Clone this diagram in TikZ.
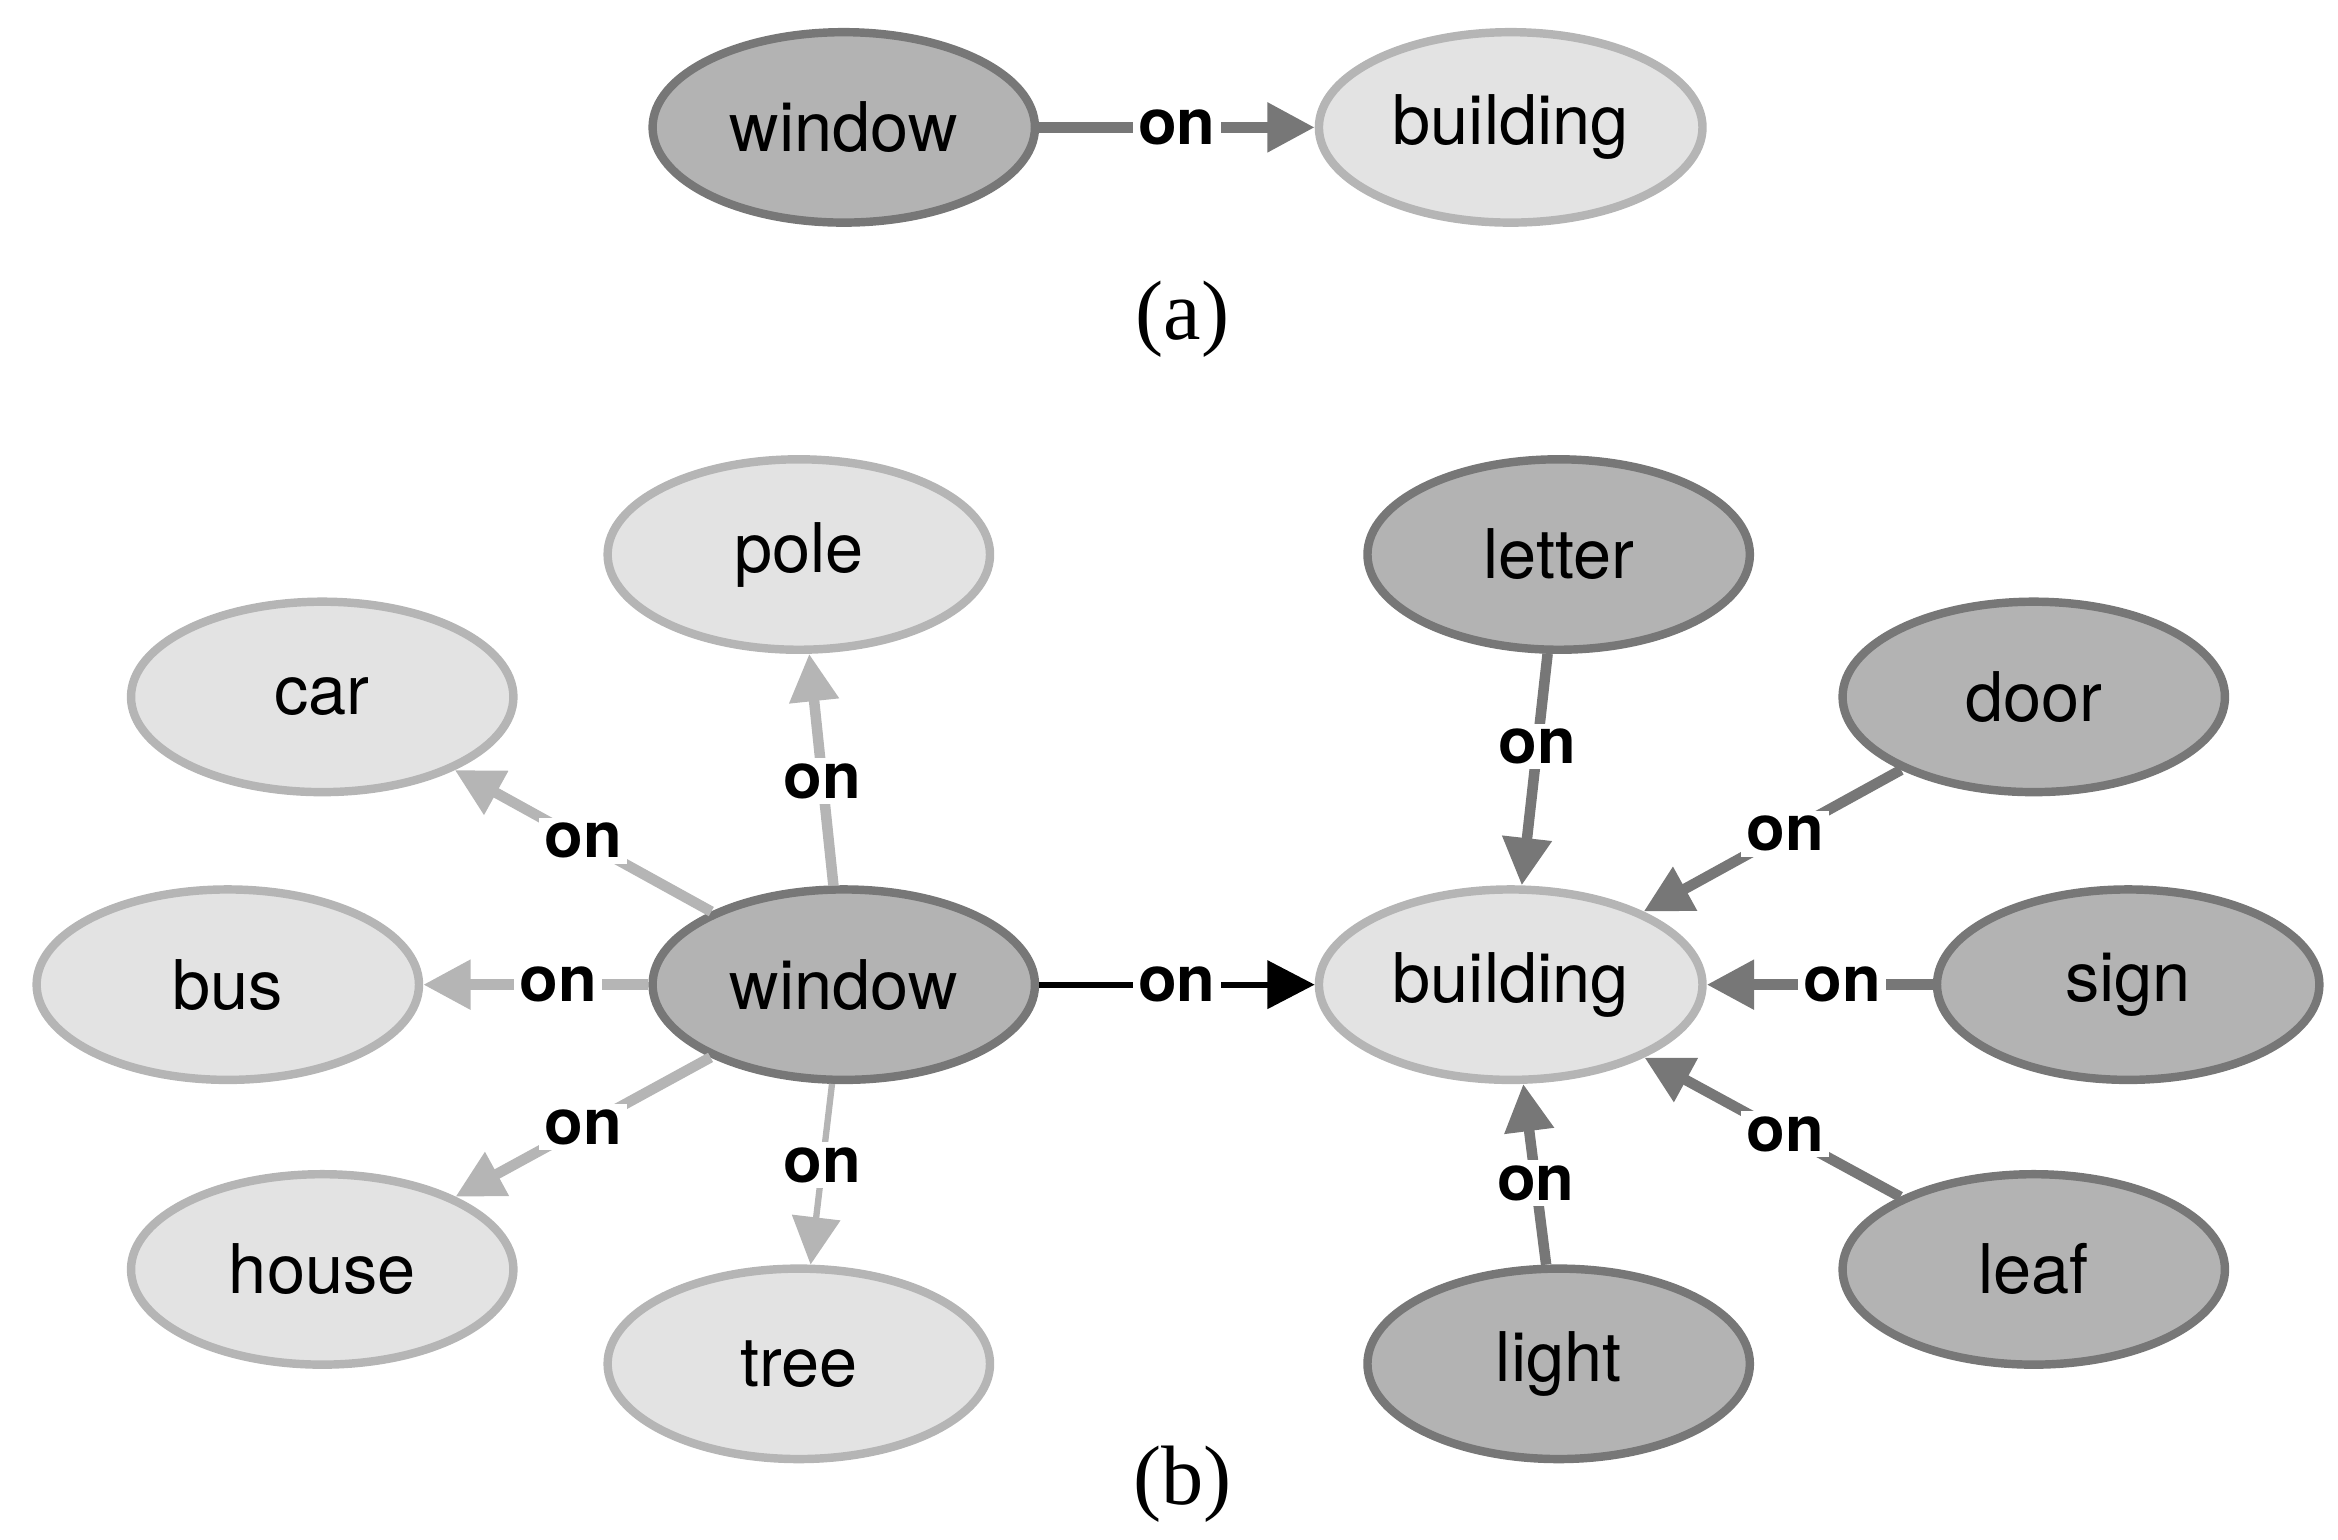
\documentclass[tikz,border=0pt]{standalone}
\usepackage{fontspec}
\setmainfont{TeX Gyre Heros}
\newfontfamily\capfont{Liberation Serif}
\usetikzlibrary{arrows.meta,shapes.geometric}
\definecolor{dk}{HTML}{B3B3B3}\definecolor{dkb}{HTML}{777777}
\definecolor{lt}{HTML}{E3E3E3}\definecolor{ltb}{HTML}{B5B5B5}
\begin{document}
\begin{tikzpicture}[x=0.01cm,y=-0.01cm,
 dn/.style={ellipse,draw=dkb,fill=dk,line width=1.6pt,minimum width=2.55cm,minimum height=1.27cm,font=\fontsize{13}{13}\selectfont},
 ln/.style={ellipse,draw=ltb,fill=lt,line width=1.6pt,minimum width=2.55cm,minimum height=1.27cm,font=\fontsize{13}{13}\selectfont},
 lab/.style={fill=white,inner sep=1pt,font=\bfseries\fontsize{12}{12}\selectfont},
 de/.style={draw=dkb,line width=2pt,-{Triangle[length=9pt,width=9pt]}},
 le/.style={draw=ltb,line width=2pt,-{Triangle[length=9pt,width=9pt]}},
 capt/.style={font=\capfont\fontsize{16}{16}\selectfont}]
\useasboundingbox (0,0) rectangle (1560,1027);
\node[dn] (wa) at (563,85) {window};
\node[ln] (ba) at (1008,85) {building};
\draw[de] (wa) -- node[lab] {on} (ba);
\node[capt] (ca) at (789,213) {(a)};
\node[ln] (pole) at (533,370) {pole};
\node[ln] (car) at (215,465) {car};
\node[ln] (bus) at (152,657) {bus};
\node[ln] (house) at (215,847) {house};
\node[ln] (tree) at (533,910) {tree};
\node[dn] (w) at (563,657) {window};
\node[ln] (b) at (1008,657) {building};
\node[dn] (letter) at (1040,370) {letter};
\node[dn] (door) at (1357,465) {door};
\node[dn] (sign) at (1420,657) {sign};
\node[dn] (leaf) at (1357,847) {leaf};
\node[dn] (light) at (1040,910) {light};
\node[capt] (cb) at (789,990) {(b)};
\draw[le] (w) -- node[lab,pos=0.45] {on} (pole);
\draw[le] (w) -- node[lab] {on} (car);
\draw[le] (w) -- node[lab,pos=0.4] {on} (bus);
\draw[le] (w) -- node[lab] {on} (house);
\draw[le,line width=1.2pt] (w) -- node[lab,pos=0.45] {on} (tree);
\draw[line width=1.2pt,-{Triangle[length=9pt,width=9pt]}] (w) -- node[lab] {on} (b);
\draw[de] (letter) -- node[lab,pos=0.4] {on} (b);
\draw[de] (door) -- node[lab,pos=0.45] {on} (b);
\draw[de] (sign) -- node[lab,pos=0.4] {on} (b);
\draw[de] (leaf) -- node[lab,pos=0.45] {on} (b);
\draw[de] (light) -- node[lab,pos=0.45] {on} (b);
\end{tikzpicture}
\end{document}
